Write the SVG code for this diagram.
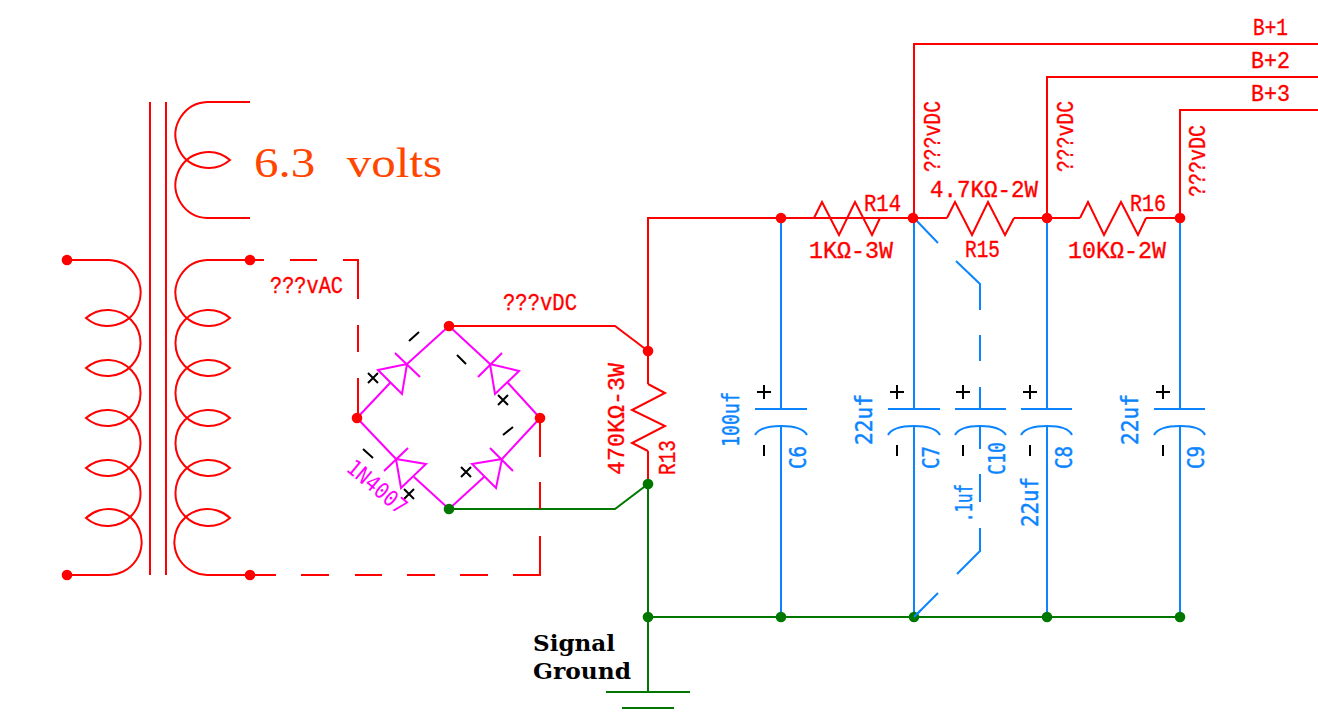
<svg xmlns="http://www.w3.org/2000/svg" width="1318" height="719" viewBox="0 0 1318 719">
<style>
.r,.m,.g,.b,.k{fill:none;stroke-width:2;stroke-linejoin:miter}
.r{stroke:#ff0000}.m{stroke:#ff00ff}.g{stroke:#007800}.b{stroke:#0a84ff}.k{stroke:#000}
.nr{fill:#ff0000}.ng{fill:#007800}
text{font-family:"Liberation Mono","DejaVu Sans Mono",monospace}
.tr{fill:#ff0000;font-size:24px;stroke:#ff0000;stroke-width:.35}
.tb{fill:#0a84ff;font-size:23px;stroke:#0a84ff;stroke-width:.45;font-family:"DejaVu Sans Mono","Liberation Mono",monospace}
.tm{fill:#ff00ff;font-size:22px;font-family:"DejaVu Sans Mono","Liberation Mono",monospace}
</style>
<rect width="1318" height="719" fill="#fff"/>
<g id="connectors">
<path class="r" d="M449 326H615L648 351M648 351V218H913M648 351V384M648 451V484"/>
<path class="r" d="M880 218H947M1014 218H1080M1146 218H1180"/>
<path class="r" d="M914 218V44H1318M1047 218V77H1318M1180 218V110H1318"/>
<path class="g" d="M449 509H615L648 484V692M648 617H1180"/>
<path class="b" d="M781 218V409M781 426V617M914 218V409M914 426V617M1047 218V409M1047 426V617M1180 218V409M1180 426V617"/>
<path class="b" d="M914 218L938 243M956 261L980 284V310M980 335V361M980 387V409M980 426V449M980 474V502M980 528V551L957 574M938 593L914 617"/>
<path class="r" d="M250 260H264M290 260H317M343 260H358V299M358 325V352M358 378V418M250 575H276M301 575H329M355 575H382M407 575H435M460 575H488M513 575H540V536M540 509V482M540 457V418"/>
</g>
<g id="transformer">
<path class="r" d="M150 102V575M166 102V575"/>
<path class="r" d="M250 102H207A33 33 0 1 0 230 160A33 33 0 1 0 207 218H250"/>
<path class="r" d="M250 260H207A33 33 0 1 0 230 318A33 33 0 1 0 230 368A33 33 0 1 0 230 418A33 33 0 1 0 230 468A33 33 0 1 0 230 518A33 33 0 1 0 207 575H250"/>
<path class="r" d="M67 260H109A33 33 0 1 1 86 318A33 33 0 1 1 86 368A33 33 0 1 1 86 418A33 33 0 1 1 86 468A33 33 0 1 1 86 518A33 33 0 1 1 109 575H67"/>
<circle class="nr" cx="67" cy="260" r="5.3"/><circle class="nr" cx="67" cy="575" r="5.3"/>
<circle class="nr" cx="250" cy="260" r="5.3"/><circle class="nr" cx="250" cy="575" r="5.3"/>
<text x="254" y="177" textLength="188" lengthAdjust="spacingAndGlyphs" style="font-family:'Liberation Serif',serif;font-size:42px;fill:#ff4500;white-space:pre;word-spacing:3px">6.3  volts</text>
<text class="tr" x="270" y="293" textLength="73" lengthAdjust="spacingAndGlyphs">???vAC</text>
</g>
<g id="bridge">
<path class="m" d="M357 418L390 383M378 370L407 364L402 394ZM395 353L420 377M407 364L449 326"/>
<path class="m" d="M449 326L490 364M519 371L490 364L495 394ZM478 377L502 353M508 383L540 418"/>
<path class="m" d="M357 418L396 459M426 464L396 459L401 488ZM384 471L408 448M414 477L449 509"/>
<path class="m" d="M540 418L502 459M472 464L502 459L496 488ZM490 448L513 471M484 477L449 509"/>
<path class="k" d="M368 373L378 383M378 373L368 383M498 395L508 405M508 395L498 405M461 467L471 477M471 467L461 477M404 489L414 499M414 489L404 499"/>
<path class="k" d="M409 341L419 332M457 355L466 364M503 435L513 427M363 449L373 458"/>
<circle class="nr" cx="449" cy="326" r="5.3"/><circle class="nr" cx="357" cy="418" r="5.3"/><circle class="nr" cx="540" cy="418" r="5.3"/>
<circle class="ng" cx="449" cy="509" r="5.3"/>
<text class="tr" x="503" y="310" textLength="74" lengthAdjust="spacingAndGlyphs">???vDC</text>
<text class="tm" transform="translate(345 470) rotate(40)" textLength="71" lengthAdjust="spacingAndGlyphs">1N4007</text>
</g>
<g id="r13">
<path class="r" d="M648 384L665 393L632 410L665 426L632 443L648 451"/>
<circle class="nr" cx="648" cy="351" r="5.3"/><circle class="ng" cx="648" cy="484" r="5.3"/>
<text class="tr" transform="translate(624 475) rotate(-90)" textLength="112" lengthAdjust="spacingAndGlyphs">470KΩ-3W</text>
<text class="tr" transform="translate(675 475) rotate(-90)" textLength="35" lengthAdjust="spacingAndGlyphs">R13</text>
</g>
<g id="r14">
<path class="r" d="M814 218L822 202L839 235L855 202L872 235L880 218"/>
<circle class="nr" cx="781" cy="218" r="5.3"/>
<text class="tr" x="864" y="211" textLength="37" lengthAdjust="spacingAndGlyphs">R14</text>
<text class="tr" x="809" y="258" textLength="84" lengthAdjust="spacingAndGlyphs">1KΩ-3W</text>
</g>
<g id="r15">
<path class="r" d="M947 218L955 202L972 235L988 202L1005 235L1014 218"/>
<circle class="nr" cx="913" cy="218" r="5.3"/>
<text class="tr" x="965" y="257" textLength="35" lengthAdjust="spacingAndGlyphs">R15</text>
<text class="tr" x="930" y="197" textLength="108" lengthAdjust="spacingAndGlyphs">4.7KΩ-2W</text>
<text class="tr" transform="translate(940 172) rotate(-90)" textLength="71" lengthAdjust="spacingAndGlyphs">???vDC</text>
</g>
<g id="r16">
<path class="r" d="M1080 218L1088 202L1104 235L1121 202L1138 235L1146 218"/>
<circle class="nr" cx="1047" cy="218" r="5.3"/><circle class="nr" cx="1180" cy="218" r="5.3"/>
<text class="tr" x="1130" y="211" textLength="36" lengthAdjust="spacingAndGlyphs">R16</text>
<text class="tr" x="1068" y="258" textLength="98" lengthAdjust="spacingAndGlyphs">10KΩ-2W</text>
<text class="tr" transform="translate(1073 172) rotate(-90)" textLength="71" lengthAdjust="spacingAndGlyphs">???vDC</text>
<text class="tr" transform="translate(1205 197) rotate(-90)" textLength="72" lengthAdjust="spacingAndGlyphs">???vDC</text>
</g>
<g id="bplus">
<text class="tr" x="1253" y="35" textLength="35" lengthAdjust="spacingAndGlyphs">B+1</text>
<text class="tr" x="1251" y="68" textLength="39" lengthAdjust="spacingAndGlyphs">B+2</text>
<text class="tr" x="1251" y="101" textLength="39" lengthAdjust="spacingAndGlyphs">B+3</text>
</g>
<g id="c6">
<path class="b" d="M755 409H807M755 435Q760 426 781 426T807 435"/>
<path class="k" d="M757 392H771M764 385V399M764 445V456"/>
<text class="tb" transform="translate(739 447) rotate(-90)" textLength="55" lengthAdjust="spacingAndGlyphs">100uf</text>
<text class="tb" transform="translate(806 469) rotate(-90)" textLength="23" lengthAdjust="spacingAndGlyphs">C6</text>
</g>
<g id="c7">
<path class="b" d="M888 409H940M888 435Q893 426 914 426T940 435"/>
<path class="k" d="M890 392H904M897 385V399M897 445V456"/>
<text class="tb" transform="translate(872 445) rotate(-90)" textLength="51" lengthAdjust="spacingAndGlyphs">22uf</text>
<text class="tb" transform="translate(939 469) rotate(-90)" textLength="23" lengthAdjust="spacingAndGlyphs">C7</text>
</g>
<g id="c10">
<path class="b" d="M955 409H1006M955 435Q960 426 980 426T1006 435"/>
<path class="k" d="M956 392H970M963 385V399M963 445V456"/>
<text class="tb" transform="translate(1005 475) rotate(-90)" textLength="33" lengthAdjust="spacingAndGlyphs">C10</text>
<text class="tb" transform="translate(972 522) rotate(-90)" textLength="38" lengthAdjust="spacingAndGlyphs">.1uf</text>
</g>
<g id="c8">
<path class="b" d="M1021 409H1072M1021 435Q1026 426 1047 426T1072 435"/>
<path class="k" d="M1023 392H1037M1030 385V399M1030 445V456"/>
<text class="tb" transform="translate(1072 469) rotate(-90)" textLength="23" lengthAdjust="spacingAndGlyphs">C8</text>
<text class="tb" transform="translate(1038 527) rotate(-90)" textLength="50" lengthAdjust="spacingAndGlyphs">22uf</text>
</g>
<g id="c9">
<path class="b" d="M1154 409H1205M1154 435Q1159 426 1180 426T1205 435"/>
<path class="k" d="M1156 392H1170M1163 385V399M1163 445V456"/>
<text class="tb" transform="translate(1204 469) rotate(-90)" textLength="23" lengthAdjust="spacingAndGlyphs">C9</text>
<text class="tb" transform="translate(1138 445) rotate(-90)" textLength="51" lengthAdjust="spacingAndGlyphs">22uf</text>
</g>
<g id="ground">
<path class="g" d="M606 692H690M622 708H674"/>
<circle class="ng" cx="648" cy="617" r="5.3"/><circle class="ng" cx="781" cy="617" r="5.3"/><circle class="ng" cx="914" cy="617" r="5.3"/><circle class="ng" cx="1047" cy="617" r="5.3"/><circle class="ng" cx="1180" cy="617" r="5.3"/>
<path class="b" d="M914 617L921 610"/>
<text x="533" y="651" textLength="82" lengthAdjust="spacingAndGlyphs" style="font-family:'DejaVu Serif',serif;font-weight:bold;font-size:23px;fill:#000">Signal</text>
<text x="533" y="679" textLength="98" lengthAdjust="spacingAndGlyphs" style="font-family:'DejaVu Serif',serif;font-weight:bold;font-size:23px;fill:#000">Ground</text>
</g>
</svg>
